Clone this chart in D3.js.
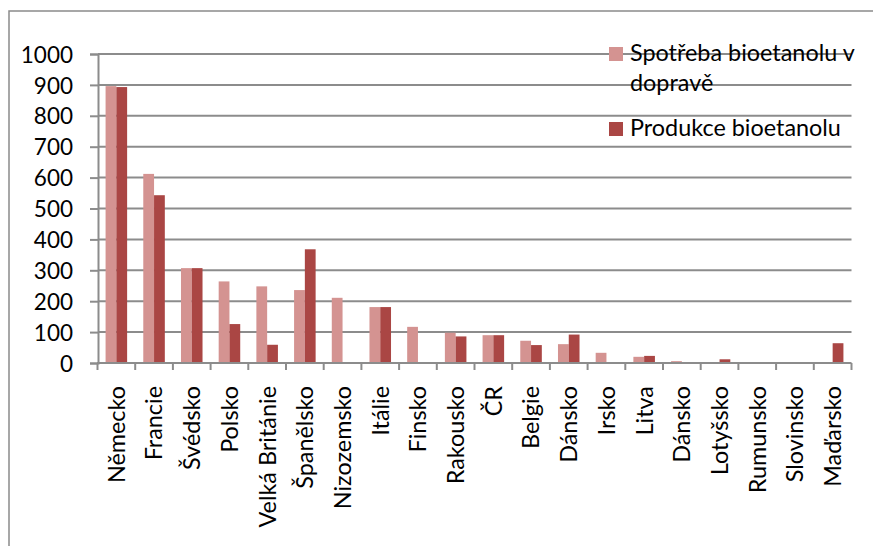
<!DOCTYPE html>
<html>
<head>
<meta charset="utf-8">
<script src="https://cdn.jsdelivr.net/npm/d3@7"></script>
<style>
  html, body { margin: 0; padding: 0; background: #fff; }
  svg { display: block; }
  text { font-family: Lato, "Open Sans", sans-serif; fill: #000; }
</style>
</head>
<body>
<svg id="chart" width="873" height="546"></svg>
<script>
// Bioethanol consumption in transport vs. production by country
const categories = ["Německo", "Francie", "Švédsko", "Polsko", "Velká Británie", "Španělsko",
  "Nizozemsko", "Itálie", "Finsko", "Rakousko", "ČR", "Belgie", "Dánsko", "Irsko", "Litva",
  "Dánsko", "Lotyšsko", "Rumunsko", "Slovinsko", "Maďarsko"];
const seriesNames = ["Spotřeba bioetanolu v dopravě", "Produkce bioetanolu"];
const spotreba = [896, 612, 307, 264, 248, 236, 211, 181, 117, 98, 90, 72, 61, 33, 20, 6, 3, 3, 1, 0];
const produkce = [893, 543, 307, 126, 59, 368, 0, 181, 0, 86, 90, 58, 92, 0, 23, 0, 12, 3, 0, 64];
const yTicks = [0, 100, 200, 300, 400, 500, 600, 700, 800, 900, 1000];
const colors = ["#D49391", "#AA4644"];

const svg = d3.select("#chart");
const FONT = 23.4;       // category and legend text
const TICK_FONT = 22.5;  // value axis numbers

// outer chart frame (runs off the right and bottom edges)
svg.append("rect")
  .attr("x", 9).attr("y", 11)
  .attr("width", 900).attr("height", 600)
  .attr("fill", "none").attr("stroke", "#8a8a8a").attr("stroke-width", 1.5);

const plotLeft = 98, plotRight = 851.5, plotTop = 54, plotBottom = 363;

const y = d3.scaleLinear().domain([0, 1000]).range([plotBottom, plotTop]);
const x = d3.scaleBand().domain(d3.range(categories.length)).range([plotLeft - 0.5, plotRight]).padding(0);
const xs = d3.scaleBand().domain([0, 1]).range([0, x.bandwidth()]).paddingInner(0).paddingOuter(0.75);

// horizontal gridlines
svg.append("g")
  .selectAll("line")
  .data(yTicks.filter(t => t > 0))
  .join("line")
  .attr("x1", plotLeft).attr("x2", plotRight)
  .attr("y1", d => y(d)).attr("y2", d => y(d))
  .attr("stroke", "#8c8c8c").attr("stroke-width", 2);

// bars
const rows = categories.map((c, i) => ({ i, vals: [spotreba[i], produkce[i]] }));
const groups = svg.append("g").selectAll("g")
  .data(rows)
  .join("g")
  .attr("transform", d => `translate(${x(d.i)},0)`);
groups.selectAll("rect")
  .data(d => d.vals.map((v, s) => ({ v, s })))
  .join("rect")
  .attr("x", d => xs(d.s))
  .attr("width", xs.bandwidth())
  .attr("y", d => y(d.v))
  .attr("height", d => y(0) - y(d.v))
  .attr("fill", d => colors[d.s]);

// y axis
const yAxis = svg.append("g")
  .attr("transform", `translate(${plotLeft},0)`)
  .call(d3.axisLeft(y).tickValues(yTicks).tickSize(8).tickPadding(17).tickFormat(d3.format("d")));
yAxis.select(".domain").attr("stroke", "#8c8c8c").attr("stroke-width", 2);
yAxis.selectAll(".tick line").attr("stroke", "#8c8c8c").attr("stroke-width", 2);
yAxis.selectAll(".tick text").attr("font-size", TICK_FONT).attr("font-family", "Lato").attr("fill", "#000").attr("dy", "0.36em");

// x axis: baseline and boundary ticks
const xAxisG = svg.append("g");
xAxisG.append("line")
  .attr("x1", plotLeft - 1).attr("x2", plotRight)
  .attr("y1", plotBottom).attr("y2", plotBottom)
  .attr("stroke", "#8c8c8c").attr("stroke-width", 2);
const bounds = d3.range(categories.length + 1).map(i => i < categories.length ? x(i) : x(i - 1) + x.bandwidth());
xAxisG.selectAll("line.tk")
  .data(bounds)
  .join("line")
  .attr("class", "tk")
  .attr("x1", d => d).attr("x2", d => d)
  .attr("y1", plotBottom).attr("y2", plotBottom + 7)
  .attr("stroke", "#8c8c8c").attr("stroke-width", 2);

// rotated category labels
xAxisG.selectAll("text")
  .data(categories)
  .join("text")
  .attr("transform", (d, i) => `translate(${x(i) + x.bandwidth() / 2},${plotBottom + 23}) rotate(-90)`)
  .attr("text-anchor", "end")
  .attr("dy", "0.36em")
  .attr("font-size", FONT)
  .text(d => d);

// legend
const legend = svg.append("g");
const legendItems = [
  { lines: ["Spotřeba bioetanolu v", "dopravě"], color: colors[0], box: 47, base: 61 },
  { lines: ["Produkce bioetanolu"], color: colors[1], box: 122, base: 136 }
];
legendItems.forEach(item => {
  legend.append("rect")
    .attr("x", 609).attr("y", item.box)
    .attr("width", 14).attr("height", 14)
    .attr("fill", item.color);
  const t = legend.append("text")
    .attr("x", 630).attr("y", item.base)
    .attr("font-size", FONT);
  item.lines.forEach((ln, k) => {
    t.append("tspan").attr("x", 630).attr("dy", k === 0 ? 0 : 30).text(ln);
  });
});
</script>
</body>
</html>
